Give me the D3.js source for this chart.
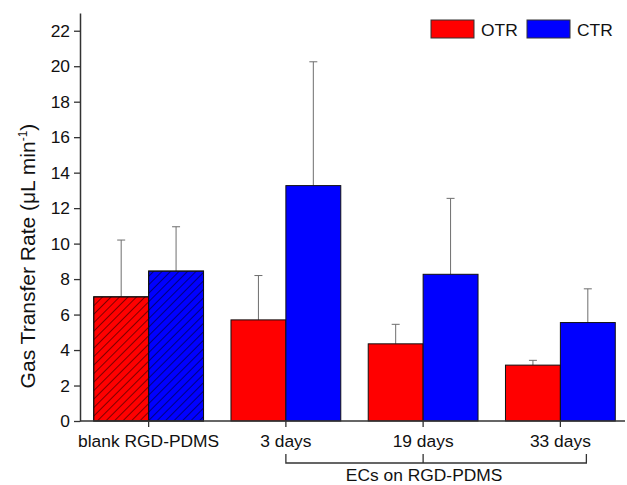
<!DOCTYPE html>
<html>
<head>
<meta charset="utf-8">
<script src="https://cdn.jsdelivr.net/npm/d3@7/dist/d3.min.js"></script>
<style>
  body { margin: 0; background: #fff; }
  svg { font-family: Arial, "Liberation Sans", sans-serif; }
</style>
</head>
<body>
<div id="chart"></div>
<script>
// data
var groups = ["blank RGD-PDMS", "3 days", "19 days", "33 days"];
var series = ["OTR", "CTR"];
var otr = [7.0, 5.7, 4.35, 3.15];
var otrTop = [10.2, 8.2, 5.45, 3.42];     // top of the error bar
var ctr = [8.45, 13.27, 8.27, 5.55];
var ctrTop = [10.95, 20.25, 12.55, 7.45];
var yTicks = [0, 2, 4, 6, 8, 10, 12, 14, 16, 18, 20, 22];
var hatched = ["blank RGD-PDMS"];
var colors = {OTR: "#ff0000", CTR: "#0000ff"};

var w = 627, h = 485;
var mLeft = 80, mRight = 629, mTop = 13, mBottom = 421;
var fontSize = 17.4;

var rows = [];
groups.forEach(function(g, i){
  rows.push({group: g, key: "OTR", value: otr[i], top: otrTop[i]});
  rows.push({group: g, key: "CTR", value: ctr[i], top: ctrTop[i]});
});

var svg = d3.select("#chart").append("svg")
  .attr("width", w)
  .attr("height", h);

// hatch pattern for blank bars
var defs = svg.append("defs");
defs.append("pattern")
  .attr("id", "hatch")
  .attr("patternUnits", "userSpaceOnUse")
  .attr("width", 6)
  .attr("height", 6)
  .attr("patternTransform", "rotate(45)")
  .append("line")
  .attr("x1", 0).attr("y1", 0)
  .attr("x2", 0).attr("y2", 6)
  .attr("stroke", "#000")
  .attr("stroke-width", 1);

var x = d3.scaleBand()
  .domain(groups)
  .range([mLeft, mRight])
  .paddingInner(0.2)
  .paddingOuter(0.1);

var xs = d3.scaleBand()
  .domain(series)
  .range([0, x.bandwidth()]);

var y = d3.scaleLinear()
  .domain([0, 23])
  .range([mBottom, mTop]);

function cx(d){ return x(d.group) + xs(d.key) + xs.bandwidth() / 2; }

// error bars (upper only), drawn under the bars
var err = svg.append("g")
  .selectAll("g")
  .data(rows)
  .enter()
  .append("g")
  .attr("stroke", "#6e6e6e")
  .attr("stroke-width", 1);

err.append("line")
  .attr("x1", cx)
  .attr("x2", cx)
  .attr("y1", function(d){ return y(d.value); })
  .attr("y2", function(d){ return y(d.top); });

err.append("line")
  .attr("x1", function(d){ return cx(d) - 4; })
  .attr("x2", function(d){ return cx(d) + 4; })
  .attr("y1", function(d){ return y(d.top); })
  .attr("y2", function(d){ return y(d.top); });

// bars
var bars = svg.append("g")
  .selectAll("g")
  .data(rows)
  .enter()
  .append("g");

bars.append("rect")
  .attr("x", function(d){ return x(d.group) + xs(d.key); })
  .attr("y", function(d){ return y(d.value); })
  .attr("width", xs.bandwidth())
  .attr("height", function(d){ return y(0) - y(d.value); })
  .attr("fill", function(d){ return colors[d.key]; })
  .attr("stroke", "#111")
  .attr("stroke-width", 1);

bars.filter(function(d){ return hatched.indexOf(d.group) >= 0; })
  .append("rect")
  .attr("x", function(d){ return x(d.group) + xs(d.key); })
  .attr("y", function(d){ return y(d.value); })
  .attr("width", xs.bandwidth())
  .attr("height", function(d){ return y(0) - y(d.value); })
  .attr("fill", "url(#hatch)")
  .attr("stroke", "#111")
  .attr("stroke-width", 1);

// y axis
var yAxis = svg.append("g")
  .attr("transform", "translate(" + mLeft + ",0)")
  .call(d3.axisLeft(y).tickValues(yTicks).tickSize(6).tickSizeOuter(0).tickPadding(4));
yAxis.select(".domain").attr("stroke", "#333").attr("stroke-width", 1.5);
yAxis.selectAll(".tick line").attr("stroke", "#333").attr("stroke-width", 1.3);
yAxis.selectAll(".tick text")
  .attr("font-size", fontSize)
  .attr("fill", "#111")
  .attr("font-family", "Arial, 'Liberation Sans', sans-serif");

// x axis
var xAxis = svg.append("g")
  .attr("transform", "translate(0," + mBottom + ")")
  .call(d3.axisBottom(x).tickSize(6).tickSizeOuter(0).tickPadding(8));
xAxis.select(".domain")
  .attr("d", "M" + mLeft + ",0H625")
  .attr("stroke", "#333")
  .attr("stroke-width", 1.5);
xAxis.selectAll(".tick line").attr("stroke", "#333").attr("stroke-width", 1.3);
xAxis.selectAll(".tick text")
  .attr("font-size", fontSize)
  .attr("fill", "#111")
  .attr("font-family", "Arial, 'Liberation Sans', sans-serif");

// bracket under the EC groups
var ecs = groups.slice(1);
var bx0 = x(ecs[0]) + x.bandwidth() / 2;
var bxm = x(ecs[1]) + x.bandwidth() / 2;
var bx1 = x(ecs[2]) + x.bandwidth() / 2 + 26;
var bracket = svg.append("g")
  .attr("stroke", "#333")
  .attr("stroke-width", 1.3)
  .attr("fill", "none");
bracket.append("path")
  .attr("d", "M" + bx0 + ",454V463H" + bx1 + "V454");
bracket.append("line")
  .attr("x1", bxm).attr("x2", bxm)
  .attr("y1", 454).attr("y2", 463);

svg.append("text")
  .attr("x", bxm + 1)
  .attr("y", 481)
  .attr("text-anchor", "middle")
  .attr("font-size", fontSize)
  .attr("fill", "#111")
  .text("ECs on RGD-PDMS");

// y label
var yl = svg.append("text")
  .attr("transform", "translate(35,256) rotate(-90)")
  .attr("text-anchor", "middle")
  .attr("font-size", 21)
  .attr("fill", "#111");
yl.append("tspan").text("Gas Transfer Rate (\u03bcL min");
yl.append("tspan").attr("dy", -8).attr("font-size", 12).text("-1");
yl.append("tspan").attr("dy", 8).text(")");

// legend
var legend = svg.append("g")
  .selectAll("g")
  .data(series)
  .enter()
  .append("g")
  .attr("transform", function(d, i){ return "translate(" + (431 + i * 96) + ",20)"; });

legend.append("rect")
  .attr("width", 43)
  .attr("height", 18)
  .attr("fill", function(d){ return colors[d]; })
  .attr("stroke", "#333")
  .attr("stroke-width", 1);

legend.append("text")
  .attr("x", 50)
  .attr("y", 16)
  .attr("font-size", fontSize)
  .attr("fill", "#111")
  .text(function(d){ return d; });
</script>
</body>
</html>
